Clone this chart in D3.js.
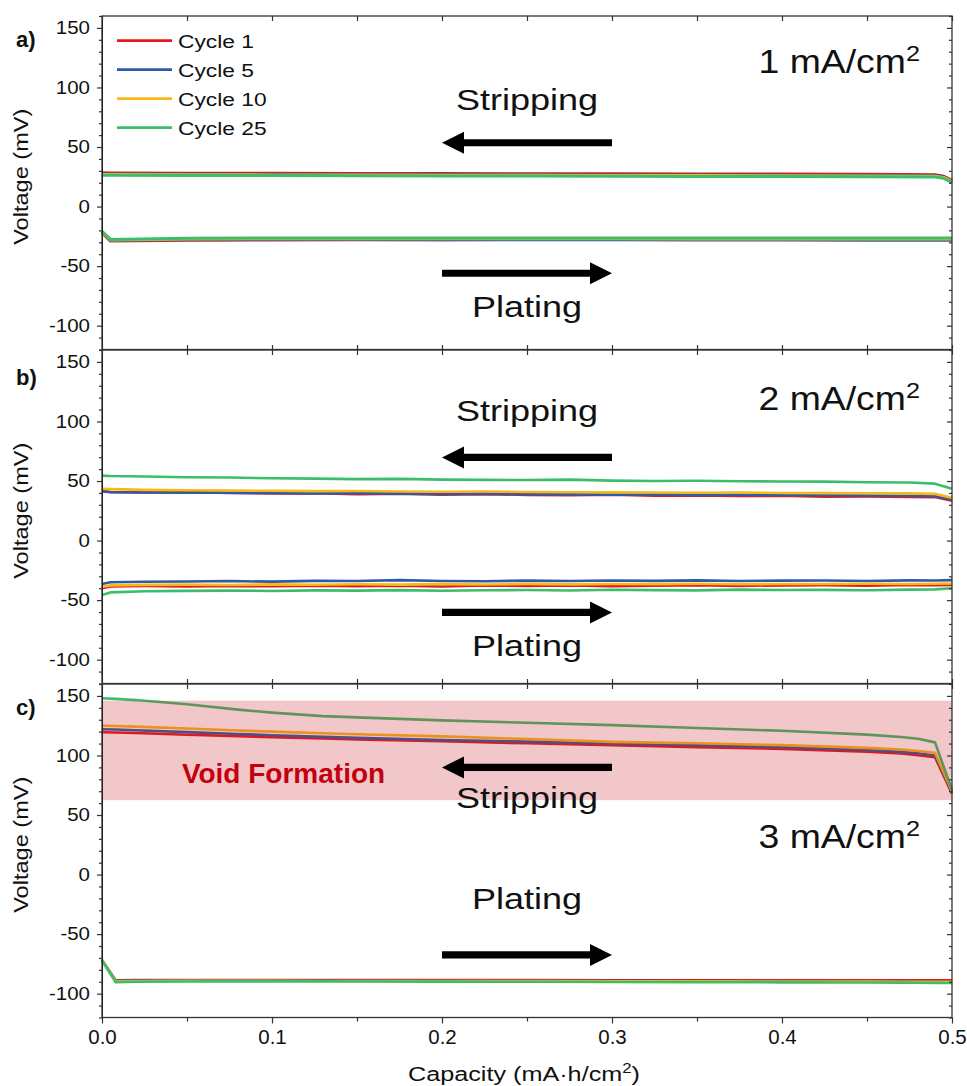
<!DOCTYPE html>
<html>
<head>
<meta charset="utf-8">
<script src="https://cdn.jsdelivr.net/npm/d3@7"></script>
<style>
  body { margin: 0; background: #fff; }
  text { font-family: "Liberation Sans", Arial, sans-serif; fill: #111; }
</style>
</head>
<body>
<svg id="chart" width="967" height="1086"></svg>
<script>
// series names + colours (drawn in this order, green on top)
var cycles = ["Cycle 1", "Cycle 5", "Cycle 10", "Cycle 25"];
var colors = ["#e3191c", "#2c5ca7", "#f8b818", "#3cbd6b"];

// ticks
var yMajor = [-100, -50, 0, 50, 100, 150];
var xMajor = [0.0, 0.1, 0.2, 0.3, 0.4, 0.5];

// ---- a) 1 mA/cm2
var capA = [0, 0.005, 0.05, 0.1, 0.15, 0.2, 0.25, 0.3, 0.35, 0.4, 0.45, 0.49, 0.495, 0.5];
var stripA = [
  [28.3, 28.2, 28.0, 27.9, 27.8, 27.7, 27.6, 27.5, 27.4, 27.3, 27.1, 26.8, 25.5, 22.0],
  [27.5, 27.4, 27.3, 27.1, 27.0, 26.9, 26.8, 26.6, 26.5, 26.4, 26.2, 26.0, 24.8, 21.5],
  [27.0, 26.9, 26.8, 26.6, 26.5, 26.4, 26.3, 26.1, 26.0, 25.9, 25.7, 25.5, 24.5, 21.0],
  [26.3, 26.3, 26.1, 26.0, 25.8, 25.7, 25.6, 25.4, 25.3, 25.2, 25.0, 24.8, 23.8, 20.0]
];
var plateA = [
  [-22.0, -29.0, -28.3, -28.0, -27.9, -27.8, -27.7, -27.7, -27.6, -27.6, -27.6, -27.6, -27.6, -27.6],
  [-21.5, -28.4, -27.8, -27.7, -27.7, -27.8, -27.8, -27.9, -28.0, -28.1, -28.2, -28.3, -28.3, -28.3],
  [-21.0, -28.0, -27.2, -27.0, -27.0, -27.0, -27.1, -27.1, -27.2, -27.2, -27.3, -27.3, -27.3, -27.3],
  [-20.7, -27.6, -26.6, -26.4, -26.3, -26.3, -26.3, -26.3, -26.3, -26.3, -26.3, -26.3, -26.3, -26.4]
];

// ---- b) 2 mA/cm2
var capB = [0, 0.005, 0.025, 0.05, 0.075, 0.1, 0.125, 0.15, 0.175, 0.2, 0.225, 0.25, 0.275,
            0.3, 0.325, 0.35, 0.375, 0.4, 0.425, 0.45, 0.475, 0.49, 0.5];
var stripB = [
  [42.0, 40.8, 40.5, 40.8, 39.9, 39.6, 39.8, 39.0, 39.4, 38.6, 38.9, 38.4, 38.0, 38.5, 37.6, 37.9, 37.4, 37.6, 36.8, 37.0, 36.6, 36.5, 33.5],
  [41.2, 40.6, 40.4, 40.2, 40.1, 40.0, 39.6, 39.8, 39.4, 39.2, 39.4, 39.0, 38.8, 38.6, 38.7, 38.4, 38.5, 38.2, 38.0, 37.9, 37.6, 37.3, 34.5],
  [43.5, 43.2, 42.6, 42.3, 42.0, 41.8, 41.5, 41.6, 41.2, 41.0, 41.2, 40.8, 40.6, 40.5, 40.4, 40.2, 40.3, 40.0, 39.8, 39.7, 39.6, 39.2, 36.0],
  [54.5, 54.2, 53.8, 53.2, 53.0, 52.3, 52.0, 51.6, 51.8, 51.2, 51.0, 50.8, 51.2, 50.3, 50.0, 50.2, 49.8, 49.6, 49.5, 49.0, 48.8, 47.8, 43.5]
];
var plateB = [
  [-40.0, -38.5, -38.2, -38.6, -38.0, -38.4, -37.8, -38.3, -37.9, -38.5, -37.7, -38.1, -37.6, -38.3, -37.8, -37.5, -38.0, -37.6, -37.4, -37.8, -37.3, -37.5, -37.2],
  [-36.5, -35.0, -34.6, -34.4, -34.0, -34.5, -33.8, -34.0, -33.2, -33.9, -34.1, -33.6, -34.0, -33.5, -33.8, -33.4, -34.0, -33.6, -33.5, -33.9, -33.4, -33.5, -33.2],
  [-39.0, -37.6, -37.2, -37.0, -37.3, -36.8, -37.1, -36.7, -37.0, -36.6, -36.9, -36.5, -36.8, -36.4, -36.6, -36.3, -36.7, -36.4, -36.5, -36.2, -36.4, -36.3, -36.0],
  [-45.6, -43.5, -42.6, -42.2, -42.0, -42.3, -41.8, -42.0, -41.6, -42.1, -41.7, -41.5, -41.9, -41.3, -41.6, -41.8, -41.2, -41.5, -41.4, -41.7, -41.2, -41.0, -40.0]
];

// ---- c) 3 mA/cm2
var capC = [0, 0.008, 0.02, 0.05, 0.08, 0.1, 0.13, 0.15, 0.2, 0.25, 0.3, 0.35, 0.4, 0.45, 0.47, 0.48, 0.49, 0.5];
var stripC = [
  [119.5, 119.3, 118.8, 117.4, 116.2, 115.4, 114.2, 113.5, 112.0, 110.2, 108.6, 107.0, 105.5, 103.2, 101.6, 100.2, 98.5, 68],
  [122.0, 121.8, 121.2, 119.6, 118.0, 117.0, 115.6, 114.8, 113.0, 111.6, 110.0, 108.6, 107.0, 104.6, 103.0, 101.8, 100.0, 69],
  [125.0, 124.8, 124.2, 122.6, 121.0, 120.0, 118.6, 117.8, 116.0, 113.8, 111.4, 110.2, 108.7, 106.4, 105.0, 103.8, 102.3, 70],
  [148.0, 147.5, 146.5, 143.0, 138.5, 136.0, 133.0, 132.0, 129.5, 127.5, 125.5, 123.0, 120.7, 117.5, 115.5, 114.0, 111.0, 71]
];
var plateC = [
  [-72, -88.8, -88.6, -88.5, -88.5, -88.5, -88.6, -88.6, -88.6, -88.6, -88.7, -88.7, -88.8, -88.8, -88.8, -88.8, -88.8, -88.8],
  [-72, -89.2, -89.0, -89.0, -89.0, -89.1, -89.1, -89.2, -89.3, -89.4, -89.5, -89.6, -89.7, -89.8, -89.9, -90.0, -90.0, -90.0],
  [-72, -89.6, -89.3, -89.2, -89.2, -89.2, -89.3, -89.3, -89.4, -89.5, -89.6, -89.7, -89.8, -89.9, -90.0, -90.1, -90.1, -90.1],
  [-72, -90.3, -90.0, -89.8, -89.7, -89.7, -89.7, -89.8, -89.9, -90.0, -90.2, -90.3, -90.5, -90.6, -90.7, -90.8, -90.9, -91.0]
];

var voidBand = [62.5, 146]; // mV range of the shaded region in c)

// layout
var SX = 1.2; // text in the figure is horizontally stretched
var left = 102, right = 952, panelH = 333.5;
var svg = d3.select("#chart");

var x = d3.scaleLinear().domain([0, 0.5]).range([left, right]);

var panels = [
  { label: "a)", top: 16,  labelY: 30.5, rate: "1", cap: capA, strip: stripA, plate: plateA,
    stripText: 81, stripArrow: 53.6, plateArrow: -56, plateText: -92.4, rateY: 112 },
  { label: "b)", top: 350, labelY: 35, rate: "2", cap: capB, strip: stripB, plate: plateB,
    stripText: 100, stripArrow: 69.8, plateArrow: -60.3, plateText: -96.6, rateY: 109.6 },
  { label: "c)", top: 684, labelY: 31, rate: "3", cap: capC, strip: stripC, plate: plateC,
    stripText: 56, stripArrow: 90, plateArrow: -67.5, plateText: -28.5, rateY: 22.1 }
];

function stretch(sel, k) {
  sel.each(function() {
    var t = d3.select(this);
    var tx = +t.attr("x") || 0, ty = +t.attr("y") || 0;
    t.attr("x", null).attr("y", null)
     .attr("transform", "translate(" + tx + "," + ty + ") scale(" + k + ",1)");
  });
}

function noDomain(g) { g.select(".domain").remove(); }

function arrow(g, xTail, xTip, yy) {
  var s = xTail > xTip ? 1 : -1, hl = 22, hh = 11, sh = 3.6;
  var pts = [[xTail, yy - sh], [xTip + s * hl, yy - sh], [xTip + s * hl, yy - hh], [xTip, yy],
             [xTip + s * hl, yy + hh], [xTip + s * hl, yy + sh], [xTail, yy + sh]];
  g.append("path").attr("d", "M" + pts.join("L") + "Z").attr("fill", "#000");
}

var minorY = d3.range(-120, 161, 10).filter(function(d) { return yMajor.indexOf(d) < 0; });
var xAll = d3.range(0, 11).map(function(i) { return i * 0.05; });
var xMinor = xAll.filter(function(d, i) { return i % 2 === 1; });

panels.forEach(function(p, pi) {
  var y = d3.scaleLinear().domain([-120, 160]).range([p.top + panelH, p.top]);
  var g = svg.append("g");
  var bottom = p.top + panelH;

  // lines
  var line = d3.line().x(function(d) { return x(d[0]); }).y(function(d) { return y(d[1]); });
  [p.plate, p.strip].forEach(function(set) {
    set.forEach(function(vals, i) {
      g.append("path")
        .datum(p.cap.map(function(c, j) { return [c, vals[j]]; }))
        .attr("d", line)
        .attr("fill", "none")
        .attr("stroke", colors[i])
        .attr("stroke-width", pi === 0 ? 3 : 2.6)
        .attr("stroke-linejoin", "round");
    });
  });

  // void formation band (over the lines, tints them)
  if (pi === 2) {
    g.append("rect")
      .attr("x", x(0)).attr("width", x(0.5) - x(0))
      .attr("y", y(voidBand[1])).attr("height", y(voidBand[0]) - y(voidBand[1]))
      .attr("fill", "rgb(200,30,40)").attr("opacity", 0.25);
    g.append("text")
      .attr("x", x(0.047)).attr("y", y(77))
      .attr("font-size", 28).attr("font-weight", "bold")
      .style("fill", "#c4000f")
      .text("Void Formation");
  }

  // axes
  var axCol = "#333";
  var yl = g.append("g").attr("transform", "translate(" + left + ",0)")
    .call(d3.axisLeft(y).tickValues(yMajor).tickSize(5).tickSizeOuter(0).tickPadding(7)
      .tickFormat(function(d) { return String(d); }));
  yl.selectAll("text").attr("font-size", 17.5).style("fill", "#111");
  stretch(yl.selectAll("text"), 1.17);
  g.append("g").attr("transform", "translate(" + left + ",0)")
    .call(d3.axisLeft(y).tickValues(minorY).tickSize(3).tickFormat("")).call(noDomain);

  g.append("g").attr("transform", "translate(" + right + ",0)")
    .call(d3.axisRight(y).tickValues(yMajor).tickSize(-5).tickSizeOuter(0).tickFormat("")).call(noDomain);
  g.append("g").attr("transform", "translate(" + right + ",0)")
    .call(d3.axisRight(y).tickValues(minorY).tickSize(-3).tickFormat("")).call(noDomain);

  g.append("g").attr("transform", "translate(0," + p.top + ")")
    .call(d3.axisTop(x).tickValues(xAll).tickSize(-5).tickFormat("")).call(noDomain);

  if (pi < 2) {
    g.append("g").attr("transform", "translate(0," + bottom + ")")
      .call(d3.axisBottom(x).tickValues(xAll).tickSize(-4.5).tickFormat("")).call(noDomain);
  } else {
    var xb = g.append("g").attr("transform", "translate(0," + bottom + ")")
      .call(d3.axisBottom(x).tickValues(xMajor).tickSize(6).tickSizeOuter(0).tickPadding(7)
        .tickFormat(d3.format(".1f")));
    xb.call(noDomain);
    xb.selectAll("text").attr("font-size", 19.5).style("fill", "#111");
    stretch(xb.selectAll("text"), 1.05);
    g.append("g").attr("transform", "translate(0," + bottom + ")")
      .call(d3.axisBottom(x).tickValues(xMinor).tickSize(4).tickFormat("")).call(noDomain);
  }
  g.selectAll(".tick line").attr("stroke", axCol).attr("stroke-width", 1.2);

  // frame
  g.append("rect")
    .attr("x", left).attr("y", p.top).attr("width", right - left).attr("height", panelH)
    .attr("fill", "none").attr("stroke", axCol).attr("stroke-width", 1.3);

  // y title
  g.append("text")
    .attr("transform", "translate(28," + (p.top + panelH / 2 - 6) + ") rotate(-90) scale(1.15,1)")
    .attr("text-anchor", "middle").attr("font-size", 20.5)
    .text("Voltage (mV)");

  // panel label
  g.append("text").attr("x", 16).attr("y", p.top + p.labelY)
    .attr("font-size", 22).attr("font-weight", "bold").text(p.label);

  // rate label
  var rt = g.append("text").attr("x", 920).attr("y", y(p.rateY))
    .attr("text-anchor", "end").attr("font-size", 32.5);
  rt.append("tspan").text(p.rate + " mA/cm");
  rt.append("tspan").attr("font-size", 22).attr("dy", -12).text("2");
  stretch(rt, 1.15);

  // stripping / plating annotations
  var st = g.append("text").attr("x", x(0.25)).attr("y", y(p.stripText))
    .attr("text-anchor", "middle").attr("font-size", 30).text("Stripping");
  stretch(st, SX);
  arrow(g, x(0.3), x(0.2), y(p.stripArrow));
  arrow(g, x(0.2), x(0.3), y(p.plateArrow));
  var pl = g.append("text").attr("x", x(0.25)).attr("y", y(p.plateText))
    .attr("text-anchor", "middle").attr("font-size", 30).text("Plating");
  stretch(pl, SX);

  // legend in a)
  if (pi === 0) {
    var lg = g.append("g");
    cycles.forEach(function(name, i) {
      var ly = 40.7 + i * 29;
      lg.append("line").attr("x1", 117).attr("x2", 172).attr("y1", ly).attr("y2", ly)
        .attr("stroke", colors[i]).attr("stroke-width", 2.8);
      var t = lg.append("text").attr("x", 178).attr("y", ly + 7)
        .attr("font-size", 19).text(name);
      stretch(t, SX);
    });
  }
});

// x title
var xt = svg.append("text").attr("x", 524).attr("y", 1081)
  .attr("text-anchor", "middle").attr("font-size", 21);
xt.append("tspan").text("Capacity (mA\u00b7h/cm");
xt.append("tspan").attr("font-size", 14).attr("dy", -8).text("2");
xt.append("tspan").attr("dy", 8).text(")");
stretch(xt, 1.2);
</script>
</body>
</html>
